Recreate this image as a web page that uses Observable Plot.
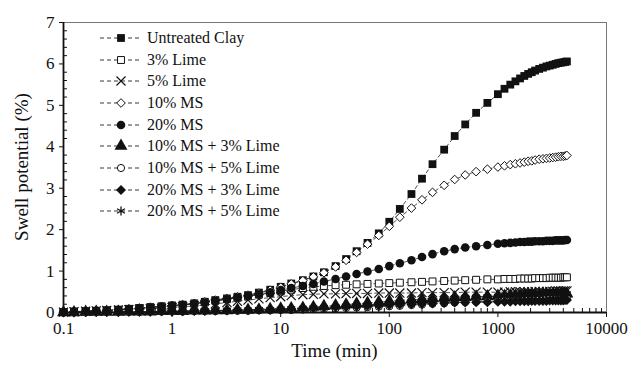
<!DOCTYPE html>
<html><head><meta charset="utf-8">
<script src="https://cdn.jsdelivr.net/npm/d3@7"></script>
<script src="https://cdn.jsdelivr.net/npm/@observablehq/plot@0.6"></script>
<style>
body{margin:0;background:#fff}
#wrap{position:relative;width:643px;height:369px;font-family:"Liberation Serif","Times New Roman",serif;color:#111}
#legend{position:absolute;left:99px;top:27px}
.row{display:flex;align-items:center;height:21.7px;font-size:16px;white-space:nowrap}
.row svg{margin-right:4px}
#xtitle{position:absolute;left:0;width:669px;top:340px;text-align:center;font-size:19px}
#ytitle{position:absolute;left:22px;top:167px;font-size:19px;transform:translate(-50%,-50%) rotate(-90deg);white-space:nowrap}
</style></head><body>
<div id="wrap"><div id="chart"></div><div id="legend"></div><div id="xtitle">Time (min)</div><div id="ytitle">Swell potential (%)</div></div>
<script>
const times = [0.1,0.125,0.16,0.2,0.25,0.32,0.4,0.5,0.63,0.8,
1,1.25,1.6,2,2.5,3.2,4,5,6.3,8,
10,12.5,16,20,25,32,40,50,63,80,
100,125,160,200,250,320,400,500,630,800,
1000,1150,1300,1450,1600,1750,1900,2050,2200,2400,
2600,2800,3000,3200,3400,3600,3800,4000,4160,4320];

const untreatedClay = [0.01,0.02,0.03,0.04,0.05,0.07,0.09,0.11,0.13,0.15,
0.17,0.19,0.22,0.26,0.30,0.34,0.38,0.42,0.48,0.55,
0.62,0.70,0.78,0.87,0.97,1.12,1.29,1.48,1.68,1.91,
2.19,2.50,2.86,3.23,3.58,3.93,4.26,4.54,4.82,5.06,
5.27,5.40,5.50,5.58,5.65,5.71,5.76,5.80,5.84,5.88,
5.91,5.94,5.96,5.98,6.00,6.02,6.03,6.04,6.05,6.06];

const lime3 = [0.01,0.02,0.03,0.04,0.05,0.06,0.08,0.10,0.12,0.14,
0.16,0.18,0.21,0.24,0.28,0.32,0.36,0.39,0.43,0.47,
0.51,0.55,0.59,0.62,0.64,0.66,0.67,0.68,0.69,0.70,
0.71,0.72,0.73,0.74,0.75,0.76,0.77,0.78,0.79,0.80,
0.80,0.81,0.81,0.81,0.82,0.82,0.82,0.82,0.83,0.83,
0.83,0.83,0.84,0.84,0.84,0.84,0.84,0.85,0.85,0.85];

const lime5 = [0.01,0.02,0.03,0.04,0.05,0.06,0.07,0.08,0.09,0.10,
0.12,0.14,0.16,0.18,0.21,0.24,0.27,0.30,0.33,0.36,
0.38,0.41,0.43,0.44,0.45,0.45,0.46,0.46,0.46,0.47,
0.47,0.47,0.47,0.48,0.48,0.48,0.48,0.49,0.49,0.49,
0.49,0.49,0.50,0.50,0.50,0.50,0.50,0.50,0.51,0.51,
0.51,0.51,0.51,0.51,0.52,0.52,0.52,0.52,0.52,0.52];

const ms10 = [0.01,0.02,0.03,0.04,0.05,0.07,0.09,0.11,0.13,0.15,
0.17,0.19,0.22,0.26,0.30,0.34,0.38,0.42,0.47,0.54,
0.61,0.69,0.77,0.86,0.96,1.10,1.26,1.45,1.65,1.86,
2.08,2.30,2.52,2.72,2.90,3.07,3.21,3.32,3.40,3.46,
3.51,3.54,3.57,3.59,3.61,3.63,3.65,3.66,3.68,3.70,
3.71,3.72,3.73,3.74,3.75,3.76,3.77,3.77,3.78,3.79];

const ms20 = [0.01,0.02,0.03,0.04,0.05,0.06,0.08,0.10,0.12,0.14,
0.16,0.18,0.21,0.24,0.28,0.32,0.36,0.40,0.44,0.49,
0.54,0.59,0.64,0.69,0.75,0.81,0.87,0.93,0.99,1.05,
1.12,1.19,1.26,1.34,1.41,1.48,1.53,1.57,1.60,1.63,
1.66,1.67,1.68,1.69,1.70,1.70,1.71,1.71,1.72,1.72,
1.72,1.73,1.73,1.73,1.74,1.74,1.74,1.74,1.75,1.75];

const ms10lime3 = [0.00,0.00,0.01,0.01,0.01,0.01,0.02,0.02,0.02,0.03,
0.03,0.03,0.04,0.04,0.05,0.05,0.06,0.06,0.07,0.08,
0.09,0.10,0.11,0.13,0.15,0.17,0.19,0.21,0.23,0.25,
0.27,0.29,0.31,0.32,0.34,0.35,0.36,0.37,0.38,0.39,
0.40,0.40,0.41,0.41,0.41,0.42,0.42,0.42,0.42,0.43,
0.43,0.43,0.43,0.44,0.44,0.44,0.44,0.44,0.45,0.45];

const ms10lime5 = [0.00,0.00,0.00,0.01,0.01,0.01,0.01,0.01,0.02,0.02,
0.02,0.02,0.03,0.03,0.03,0.04,0.04,0.04,0.05,0.05,
0.06,0.06,0.07,0.08,0.09,0.10,0.11,0.12,0.13,0.14,
0.15,0.16,0.18,0.19,0.21,0.22,0.24,0.25,0.26,0.27,
0.28,0.29,0.29,0.30,0.30,0.31,0.31,0.31,0.32,0.32,
0.32,0.33,0.33,0.33,0.33,0.34,0.34,0.34,0.34,0.34];

const ms20lime3 = [0.00,0.00,0.01,0.01,0.01,0.01,0.02,0.02,0.02,0.03,
0.03,0.03,0.04,0.04,0.05,0.05,0.06,0.06,0.07,0.07,
0.08,0.09,0.10,0.11,0.12,0.13,0.14,0.15,0.16,0.17,
0.18,0.19,0.20,0.21,0.22,0.23,0.24,0.24,0.25,0.25,
0.26,0.26,0.26,0.27,0.27,0.27,0.27,0.28,0.28,0.28,
0.28,0.28,0.29,0.29,0.29,0.29,0.29,0.29,0.30,0.30];

const ms20lime5 = [0.00,0.00,0.01,0.01,0.01,0.01,0.02,0.02,0.02,0.03,
0.03,0.03,0.04,0.04,0.05,0.05,0.06,0.06,0.07,0.07,
0.08,0.09,0.10,0.11,0.12,0.13,0.15,0.16,0.18,0.20,
0.22,0.24,0.26,0.28,0.30,0.32,0.34,0.35,0.37,0.38,
0.39,0.40,0.40,0.41,0.41,0.42,0.42,0.42,0.43,0.43,
0.43,0.44,0.44,0.44,0.44,0.45,0.45,0.45,0.45,0.45];

const seriesNames = ["Untreated Clay","3% Lime","5% Lime","10% MS","20% MS",
  "10% MS + 3% Lime","10% MS + 5% Lime","20% MS + 3% Lime","20% MS + 5% Lime"];
const seriesValues = [untreatedClay, lime3, lime5, ms10, ms20, ms10lime3, ms10lime5, ms20lime3, ms20lime5];

const xTicks = [0.1, 1, 10, 100, 1000, 10000];
const xTickLabels = ["0.1", "1", "10", "100", "1000", "10000"];
const yTicks = [0, 1, 2, 3, 4, 5, 6, 7];
const yTickLabels = ["0", "1", "2", "3", "4", "5", "6", "7"];

// styles (not data)
const styles = [
  {symbol: "square", fill: "#111", stroke: "none", r: 4.4, sw: 1},
  {symbol: "square", fill: "white", stroke: "#111", r: 3.9, sw: 1},
  {symbol: "times", fill: "none", stroke: "#111", r: 4.2, sw: 1.2},
  {symbol: "diamond2", fill: "white", stroke: "#111", r: 3.9, sw: 1},
  {symbol: "circle", fill: "#111", stroke: "none", r: 4.3, sw: 1},
  {symbol: "triangle", fill: "#111", stroke: "none", r: 4.8, sw: 1},
  {symbol: "circle", fill: "white", stroke: "#111", r: 3.6, sw: 1},
  {symbol: "diamond2", fill: "#111", stroke: "none", r: 4.5, sw: 1},
  {symbol: "asterisk", fill: "none", stroke: "#111", r: 4.3, sw: 1.3}
];

const W = 643, H = 369, mL = 63, mR = 37, mT = 22, mB = 57;
const plotW = W - mL - mR, plotH = H - mT - mB;

const xMinor = [];
for (let e = -1; e < 4; e++) for (let m = 2; m <= 9; m++) xMinor.push(m * Math.pow(10, e));
const yMinor = [];
for (let u = 0; u < 7; u++) for (let k = 1; k <= 4; k++) yMinor.push(+(u + k * 0.2).toFixed(2));

const rows = seriesNames.map((name, s) => times.map((t, i) => ({name, s, t, v: seriesValues[s][i]})));

const marks = [];
rows.forEach((r) => {
  marks.push(Plot.line(r, {x: "t", y: "v", stroke: "#222", strokeWidth: 0.8, strokeDasharray: "3.5,3"}));
});
rows.forEach((r, s) => {
  const st = styles[s];
  marks.push(Plot.dot(r, {x: "t", y: "v", symbol: () => st.symbol, r: st.r, fill: st.fill, stroke: st.stroke, strokeWidth: st.sw}));
});

const chart = Plot.plot({
  width: W, height: H,
  marginLeft: mL, marginRight: mR, marginTop: mT, marginBottom: mB,
  style: {fontFamily: "Liberation Serif, Times New Roman, serif", fontSize: "17px", color: "#111", background: "white"},
  x: {type: "log", domain: [0.1, 10000], axis: null},
  y: {domain: [0, 7], axis: null},
  symbol: {type: "identity"},
  marks: [
    ...marks,
    Plot.frame({stroke: "#777", strokeWidth: 1}),
    Plot.tickX(xMinor, {x: d => d, insetTop: plotH - 4, stroke: "#111", strokeWidth: 1}),
    Plot.tickY(yMinor, {y: d => d, insetRight: plotW - 4, stroke: "#111", strokeWidth: 1}),
    Plot.ruleY([0], {stroke: "#111", strokeWidth: 1.8}),
    Plot.ruleX([0.1], {stroke: "#111", strokeWidth: 1.8}),
    Plot.axisX({ticks: xTicks, tickFormat: d => xTickLabels[xTicks.indexOf(d)], tickSize: 5, tickPadding: 4, fontSize: 17, label: null, stroke: "#111"}),
    Plot.axisY({ticks: yTicks, tickFormat: d => yTickLabels[yTicks.indexOf(d)], tickSize: 4, tickPadding: 5, fontSize: 17, label: null, stroke: "#111"})
  ]
});
document.getElementById("chart").appendChild(chart);

// legend
const d3sym = {square: d3.symbolSquare, times: d3.symbolTimes, diamond2: d3.symbolDiamond2,
  circle: d3.symbolCircle, triangle: d3.symbolTriangle, asterisk: d3.symbolAsterisk};
const legend = d3.select("#legend");
seriesNames.forEach((name, s) => {
  const st = styles[s];
  const row = legend.append("div").attr("class", "row");
  const svg = row.append("svg").attr("width", 44).attr("height", 20);
  svg.append("line").attr("x1", 1).attr("x2", 43).attr("y1", 10).attr("y2", 10)
    .attr("stroke", "#222").attr("stroke-width", 0.9).attr("stroke-dasharray", "4,3");
  svg.append("path").attr("transform", "translate(22,10)")
    .attr("d", d3.symbol(d3sym[st.symbol], Math.PI * st.r * st.r)())
    .attr("fill", st.fill).attr("stroke", st.stroke).attr("stroke-width", st.sw);
  row.append("span").text(name);
});
</script></body></html>
